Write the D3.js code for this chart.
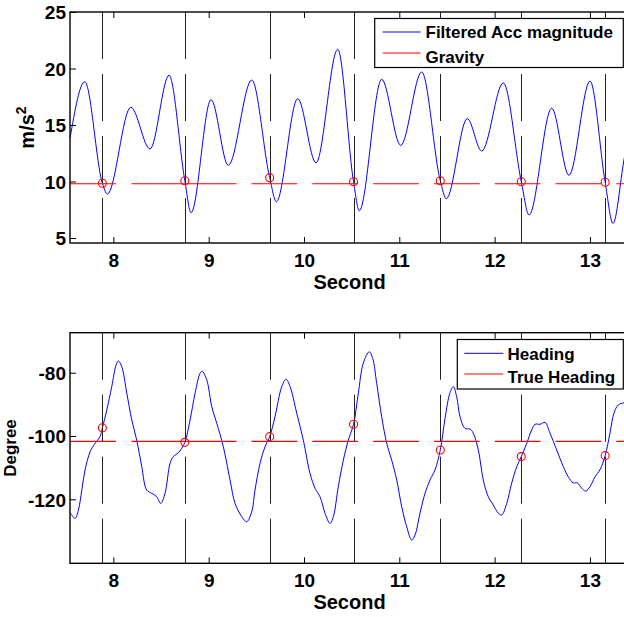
<!DOCTYPE html>
<html>
<head>
<meta charset="utf-8">
<script src="https://cdn.jsdelivr.net/npm/d3@7"></script>
<style>
  html, body { margin: 0; padding: 0; background: #fff; }
  svg { display: block; }
  text { font-family: "Liberation Sans", Arial, Helvetica, sans-serif; font-weight: bold; fill: #000; }
</style>
</head>
<body>
<svg id="chart" width="624" height="617"></svg>
<script>
// ---- shared time axis ----
const xTicks = [8, 9, 10, 11, 12, 13];
const xTickLabels = ["8", "9", "10", "11", "12", "13"];
const xLabel = "Second";
// detected step instants (s)
const stepTimes = [7.885, 8.75, 9.64, 10.52, 11.43, 12.28, 13.16];

// ---- acceleration panel ----
const accTime = [7.546, 7.700, 7.885, 7.937, 8.183, 8.385, 8.584, 8.750, 8.815, 9.025,
  9.206, 9.452, 9.640, 9.710, 9.934, 10.126, 10.354, 10.520, 10.580, 10.815,
  11.015, 11.235, 11.430, 11.493, 11.713, 11.865, 12.091, 12.280, 12.361, 12.599,
  12.780, 13.001, 13.160, 13.242, 13.357, 13.410];
const accValue = [13.85, 18.83, 9.84, 8.89, 16.57, 12.88, 19.40, 10.07, 7.24, 17.24,
  11.43, 18.98, 10.34, 8.21, 17.33, 11.66, 21.70, 9.98, 7.42, 19.04,
  13.20, 19.69, 10.07, 8.48, 15.56, 12.70, 18.72, 9.98, 7.04, 16.48,
  10.55, 18.89, 9.93, 6.30, 11.90, 14.30];
const accAtSteps = [9.84, 10.07, 10.34, 9.98, 10.07, 9.98, 9.93];
const gravityValue = 9.8;
const accTicks = [5, 10, 15, 20, 25];
const accTickLabels = ["5", "10", "15", "20", "25"];
const accLegend = ["Filtered Acc magnitude", "Gravity"];

// ---- heading panel ----
const headingTime = [7.546, 7.598, 7.633, 7.669, 7.703, 7.756, 7.808, 7.860, 7.885, 7.931,
  7.983, 8.028, 8.052, 8.088, 8.141, 8.193, 8.245, 8.298, 8.350, 8.403,
  8.455, 8.497, 8.542, 8.595, 8.629, 8.682, 8.717, 8.750, 8.805, 8.857,
  8.909, 8.930, 8.980, 9.032, 9.085, 9.154, 9.224, 9.277, 9.347, 9.399,
  9.452, 9.486, 9.539, 9.591, 9.640, 9.696, 9.767, 9.812, 9.854, 9.924,
  9.993, 10.063, 10.116, 10.168, 10.221, 10.273, 10.308, 10.360, 10.413, 10.465,
  10.520, 10.570, 10.622, 10.685, 10.721, 10.763, 10.815, 10.868, 10.920, 10.973,
  11.025, 11.078, 11.130, 11.165, 11.217, 11.270, 11.322, 11.375, 11.430, 11.480,
  11.532, 11.567, 11.602, 11.637, 11.689, 11.742, 11.776, 11.829, 11.881, 11.934,
  11.986, 12.039, 12.074, 12.127, 12.179, 12.232, 12.280, 12.337, 12.389, 12.424,
  12.476, 12.529, 12.581, 12.651, 12.721, 12.773, 12.825, 12.867, 12.914, 12.955,
  13.001, 13.053, 13.105, 13.160, 13.210, 13.252, 13.297, 13.357, 13.410];
const headingValue = [-124.2, -126.0, -123.4, -117.1, -110.7, -105.0, -102.3, -100.2, -97.4, -91.8,
  -84.4, -77.6, -76.3, -78.1, -86.5, -94.9, -101.3, -109.7, -117.1, -118.1,
  -119.2, -121.3, -118.1, -108.6, -106.5, -105.3, -103.9, -102.0, -94.9, -86.5,
  -80.2, -79.5, -82.3, -90.7, -96.0, -103.4, -113.9, -121.3, -125.5, -127.1,
  -123.9, -117.1, -108.6, -103.4, -100.2, -93.9, -84.4, -82.1, -84.4, -92.8,
  -101.3, -111.8, -116.5, -119.2, -124.4, -127.6, -125.5, -116.0, -107.6, -101.3,
  -96.3, -86.5, -77.0, -73.4, -75.5, -83.4, -93.9, -102.3, -107.6, -113.9,
  -122.3, -128.7, -132.9, -131.3, -124.4, -118.1, -113.9, -110.7, -104.4, -94.4,
  -86.3, -84.4, -87.6, -93.9, -97.6, -97.8, -99.1, -104.4, -113.9, -119.2,
  -121.8, -124.4, -125.0, -121.3, -114.9, -109.7, -106.5, -102.3, -98.1, -96.3,
  -96.3, -95.7, -99.1, -104.4, -109.7, -112.9, -114.8, -114.8, -116.5, -117.4,
  -116.0, -112.9, -110.7, -106.2, -99.1, -92.8, -90.2, -89.5, -89.3];
const headingAtSteps = [-97.4, -102.0, -100.2, -96.3, -104.4, -106.5, -106.2];
const trueHeadingValue = -101.7;
const headingTicks = [-120, -100, -80];
const headingTickLabels = ["-120", "-100", "-80"];
const headingLegend = ["Heading", "True Heading"];

const svg = d3.select("#chart");
const BLUE = "#0000ff", RED = "#ff0000";
const xDomain = [7.545, 13.41];
const plotLeft = 70, plotRight = 629;

function drawPanel(cfg) {
  const x = d3.scaleLinear().domain(xDomain).range([plotLeft, plotRight]);
  const y = d3.scaleLinear().domain(cfg.yDomain).range([cfg.bottom, cfg.top]);
  const g = svg.append("g");

  const clipId = "clip-" + cfg.id;
  svg.append("clipPath").attr("id", clipId)
    .append("rect")
    .attr("x", plotLeft).attr("y", cfg.top)
    .attr("width", plotRight - plotLeft).attr("height", cfg.bottom - cfg.top);

  const plot = g.append("g").attr("clip-path", `url(#${clipId})`);

  // measured signal
  const line = d3.line().x(d => x(d[0])).y(d => y(d[1])).curve(cfg.curve);
  plot.append("path")
    .datum(d3.zip(cfg.t, cfg.v))
    .attr("d", line)
    .attr("fill", "none")
    .attr("stroke", BLUE)
    .attr("stroke-width", 1);

  // reference level (dashed)
  plot.append("line")
    .attr("x1", x(xDomain[0])).attr("x2", x(xDomain[1]))
    .attr("y1", y(cfg.ref)).attr("y2", y(cfg.ref))
    .attr("stroke", RED).attr("stroke-width", 1.1)
    .attr("stroke-dasharray", "46 15.5 105 15 45.8 15 45.8 15 45.8 15 45.8 15 45.8 15 45.8 15 45.8 15");

  // step markers
  plot.selectAll("line.step")
    .data(stepTimes)
    .join("line")
    .attr("class", "step")
    .attr("x1", d => Math.round(x(d)) + 0.5).attr("x2", d => Math.round(x(d)) + 0.5)
    .attr("y1", cfg.top).attr("y2", cfg.bottom)
    .attr("stroke", "#222").attr("stroke-width", 1)
    .attr("stroke-dasharray", "47 15");

  // values at step instants
  plot.selectAll("circle.step")
    .data(d3.zip(stepTimes, cfg.atSteps))
    .join("circle")
    .attr("class", "step")
    .attr("cx", d => x(d[0])).attr("cy", d => y(d[1]))
    .attr("r", 4)
    .attr("fill", "none").attr("stroke", RED).attr("stroke-width", 1.1);

  // axes (ticks point inward)
  const xAxis = d3.axisBottom(x).tickValues(xTicks)
    .tickFormat((d, i) => xTickLabels[i]).tickSizeInner(-6).tickSizeOuter(0);
  const gx = g.append("g").attr("transform", `translate(0,${cfg.bottom})`).call(xAxis);
  gx.select(".domain").remove();
  gx.selectAll(".tick line").attr("stroke", "#000").attr("stroke-width", 1);
  gx.selectAll(".tick text").attr("y", 24).attr("dy", null)
    .style("font-size", "19px");

  const xAxisTop = d3.axisTop(x).tickValues(xTicks).tickFormat("").tickSizeInner(-6).tickSizeOuter(0);
  const gxt = g.append("g").attr("transform", `translate(0,${cfg.top})`).call(xAxisTop);
  gxt.select(".domain").remove();
  gxt.selectAll(".tick line").attr("stroke", "#000");

  const yAxis = d3.axisLeft(y).tickValues(cfg.yTicks)
    .tickFormat((d, i) => cfg.yTickLabels[i]).tickSizeInner(-6).tickSizeOuter(0).tickPadding(4);
  const gy = g.append("g").attr("transform", `translate(${plotLeft},0)`).call(yAxis);
  gy.select(".domain").remove();
  gy.selectAll(".tick line").attr("stroke", "#000");
  gy.selectAll(".tick text").attr("dy", "0.36em").style("font-size", "19px");
  g.selectAll(".tick text").attr("fill", "#000").style("font-family", null);

  // frame
  g.append("rect")
    .attr("x", plotLeft).attr("y", cfg.top)
    .attr("width", plotRight - plotLeft).attr("height", cfg.bottom - cfg.top)
    .attr("fill", "none").attr("stroke", "#000").attr("stroke-width", 1.4);

  // axis titles
  g.append("text")
    .attr("x", (plotLeft + plotRight) / 2).attr("y", cfg.bottom + 46)
    .attr("text-anchor", "middle").style("font-size", "20px")
    .text(xLabel);

  const yl = g.append("text")
    .attr("transform", `translate(${cfg.yLabelX},${(cfg.top + cfg.bottom) / 2}) rotate(-90)`)
    .attr("text-anchor", "middle").style("font-size", cfg.yLabelSize);
  cfg.yLabel(yl);

  // legend
  const L = cfg.legend;
  const lg = g.append("g");
  lg.append("rect")
    .attr("x", L.x0).attr("y", L.y0).attr("width", L.x1 - L.x0).attr("height", L.y1 - L.y0)
    .attr("fill", "#fff").attr("stroke", "#000").attr("stroke-width", 1.2);
  cfg.legendLabels.forEach((label, i) => {
    lg.append("line")
      .attr("x1", L.lineX0).attr("x2", L.lineX1)
      .attr("y1", L.lineY[i]).attr("y2", L.lineY[i])
      .attr("stroke", i === 0 ? BLUE : RED).attr("stroke-width", 1);
    lg.append("text")
      .attr("x", L.textX).attr("y", L.textY[i])
      .style("font-size", "17px")
      .text(label);
  });
}

drawPanel({
  id: "acc",
  top: 12, bottom: 243,
  yDomain: [4.558, 25],
  t: accTime, v: accValue, atSteps: accAtSteps, ref: gravityValue,
  curve: d3.curveMonotoneX,
  yTicks: accTicks, yTickLabels: accTickLabels,
  yLabelX: 34, yLabelSize: "20px",
  yLabel: sel => {
    sel.append("tspan").text("m/s");
    sel.append("tspan").attr("dy", -8).style("font-size", "14px").text("2");
  },
  legendLabels: accLegend,
  legend: { x0: 374.7, x1: 623.3, y0: 18.5, y1: 67.5,
            lineX0: 382.7, lineX1: 420.7, lineY: [32, 53],
            textX: 425.5, textY: [38.3, 63] }
});

drawPanel({
  id: "heading",
  top: 332.7, bottom: 563.3,
  yDomain: [-140.22, -67.36],
  t: headingTime, v: headingValue, atSteps: headingAtSteps, ref: trueHeadingValue,
  curve: d3.curveCatmullRom.alpha(0.5),
  yTicks: headingTicks, yTickLabels: headingTickLabels,
  yLabelX: 16, yLabelSize: "17px",
  yLabel: sel => sel.text("Degree"),
  legendLabels: headingLegend,
  legend: { x0: 457.3, x1: 623.3, y0: 339.5, y1: 389,
            lineX0: 464.3, lineX1: 503.3, lineY: [353.3, 374],
            textX: 507.5, textY: [360, 383.3] }
});
</script>
</body>
</html>
